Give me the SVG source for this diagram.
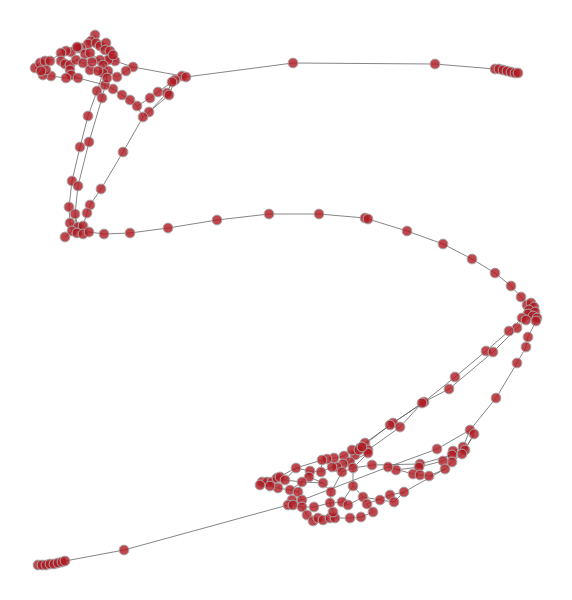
<svg xmlns="http://www.w3.org/2000/svg" width="572" height="600" viewBox="0 0 572 600">
<style>
.edges path{fill:none;stroke:#555;stroke-width:0.8;stroke-opacity:0.9}
.nodes circle{fill:#b01820;fill-opacity:0.8;stroke:#a8a8a8;stroke-width:1;r:4.9px}
</style>
<rect width="572" height="600" fill="#fff"/>
<g id="connectors" class="edges">
<path d="M186,77 L293,63 L435,64 L495,69 L499,69 L503,70 L507,71 L511,72 L515,73 L518,73"/>
<path d="M133,67 L182,76 M126,71 L133,67 M117,77 L126,71 M108,71 L117,77 M115,61 L133,67 M76,60 L108,60 M66,78 L78,78 L105,85"/>
<path d="M103,73 L97,91 L88,116 L80,147 L72,181 L69,207 L70,223"/>
<path d="M107,78 L102,98 L89,142 L78,186 L75,214 L77,233"/>
<path d="M182,76 L172,82 L167,93 L149,112 M186,77 L175,80 L169,95 L149,112 M172,82 L158,92 L150,98 L137,106"/>
<path d="M105,85 L113,89 L122,95 L130,100 L137,106 L143,117 M149,112 L143,117 L123,152 L101,189 L90,205 L87,213 L83,226"/>
<path d="M70,223 L78,227 L83,226 M72,231 L77,233 L83,234 L89,232 M65,237 L72,231 M70,223 L72,231 M83,226 L89,232 M75,214 L78,227"/>
<path d="M89,232 L104,234 L130,233 L168,228 L217,220 L269,214 L319,214 L365,218 L368,219 L407,231 L443,244 L472,259 L495,273 L511,286 L521,297 L527,305"/>
<path d="M527,305 L531,303 L534,307 L535,312 L537,318 L536,321 M527,305 L529,310 L528,314 L522,318 M529,310 L534,307 M528,314 L533,316 L537,318 M526,320 L522,318 M533,316 L526,320"/>
<path d="M522,318 L509,331 L486,351 L455,377 L424,402 L393,423 L365,443 M526,320 L517,328 L493,352 L449,389 L422,403 L400,427 L368,450 M536,321 L528,337 L526,347 L517,363 L496,398 L470,430 M424,402 L390,425 L360,448"/>
<path d="M470,430 L437,449 L388,467 M470,430 L463,447 L453,451 L443,461 L419,467 L396,470 M474,434 L465,450 L452,455 L420,464 L372,465 M474,434 L462,454 L452,462 L445,469 L429,476 L420,475 L413,474 L388,467 M445,469 L404,492 L394,502 L380,500 L363,497 M404,492 L390,495 L367,504 M420,464 L419,467 M372,465 L353,468 M124,550 L288,505 M302,500 L388,467"/>
<path d="M363,497 L348,505 L342,502 L330,503 L314,507 L302,507 M367,504 L373,512 L361,517 L350,518 L335,518 L330,518 L323,520 L318,518 L313,521 L307,515 L302,507 M333,512 L330,503 M333,512 L335,518 M302,507 L293,505 L288,505 L292,500 L302,500 L298,492 L290,490 M331,492 L330,503 M331,492 L323,483 L309,477 M353,486 L342,502 M353,486 L363,497 M353,468 L353,486 M353,468 L342,472 L331,492"/>
<path d="M365,443 L362,447 L359,450 L352,450 L344,456 L334,458 L327,459 L322,460 L296,468 L285,480 M360,448 L355,455 L350,462 L343,464 L337,467 L332,467 L321,472 L310,471 L302,482 L290,490 M368,450 L368,453 L353,468 M368,453 L350,462 M322,460 L321,472 M342,472 L337,467 M309,477 L310,471 M302,482 L298,492 M262,482 L267,482 L272,482 L277,478 L280,477 L285,480 L278,488 L270,486 L260,485 L262,482 M296,468 L277,478 M285,480 L302,482 M278,488 L290,490 M296,468 L310,471 M323,483 L302,482"/>
<path d="M124,550 L65,561 L62,562 L58,563 L54,564 L50,564 L46,565 L42,565 L38,565"/>
<path d="M95,35 L91,41 L88,44 L81,48 L78,48 L71,52 L66,51 L61,53 L50,61 L45,61 L40,63 L35,68 L41,71 L43,75 L51,76 L66,78 M95,35 L96,43 L100,46 L106,43 M100,46 L105,50 L110,51 L113,55 L111,58 L115,61 L108,60 L103,65 L108,71 L103,73 M90,53 L85,54 L81,48 M90,53 L100,60 L92,62 L83,63 L76,60 L70,65 L65,64 L61,61 L61,53 M70,65 L70,70 L71,75 L78,78 M83,63 L90,70 L98,71 L103,73 M46,70 L41,71 M46,70 L50,61 M77,47 L78,48 M105,50 L108,60 M100,60 L103,65 M107,78 L108,71 M103,73 L107,78"/>
</g>
<g id="nodes" class="nodes">
<g id="n1"><circle cx="293" cy="63" r="4.9"/></g>
<g id="n2"><circle cx="435" cy="64" r="4.9"/></g>
<g id="n3"><circle cx="495" cy="69" r="4.9"/></g>
<g id="n4"><circle cx="499" cy="69" r="4.9"/></g>
<g id="n5"><circle cx="503" cy="70" r="4.9"/></g>
<g id="n6"><circle cx="507" cy="71" r="4.9"/></g>
<g id="n7"><circle cx="511" cy="72" r="4.9"/></g>
<g id="n8"><circle cx="515" cy="73" r="4.9"/></g>
<g id="n9"><circle cx="518" cy="73" r="4.9"/></g>
<g id="n10"><circle cx="182" cy="76" r="4.9"/></g>
<g id="n11"><circle cx="186" cy="77" r="4.9"/></g>
<g id="n12"><circle cx="175" cy="80" r="4.9"/></g>
<g id="n13"><circle cx="172" cy="82" r="4.9"/></g>
<g id="n14"><circle cx="158" cy="92" r="4.9"/></g>
<g id="n15"><circle cx="167" cy="93" r="4.9"/></g>
<g id="n16"><circle cx="169" cy="95" r="4.9"/></g>
<g id="n17"><circle cx="150" cy="98" r="4.9"/></g>
<g id="n18"><circle cx="149" cy="112" r="4.9"/></g>
<g id="n19"><circle cx="143" cy="117" r="4.9"/></g>
<g id="n20"><circle cx="137" cy="106" r="4.9"/></g>
<g id="n21"><circle cx="130" cy="100" r="4.9"/></g>
<g id="n22"><circle cx="122" cy="95" r="4.9"/></g>
<g id="n23"><circle cx="113" cy="89" r="4.9"/></g>
<g id="n24"><circle cx="105" cy="85" r="4.9"/></g>
<g id="n25"><circle cx="133" cy="67" r="4.9"/></g>
<g id="n26"><circle cx="126" cy="71" r="4.9"/></g>
<g id="n27"><circle cx="117" cy="77" r="4.9"/></g>
<g id="n28"><circle cx="95" cy="35" r="4.9"/></g>
<g id="n29"><circle cx="91" cy="41" r="4.9"/></g>
<g id="n30"><circle cx="88" cy="44" r="4.9"/></g>
<g id="n31"><circle cx="96" cy="43" r="4.9"/></g>
<g id="n32"><circle cx="100" cy="46" r="4.9"/></g>
<g id="n33"><circle cx="106" cy="43" r="4.9"/></g>
<g id="n34"><circle cx="105" cy="50" r="4.9"/></g>
<g id="n35"><circle cx="110" cy="51" r="4.9"/></g>
<g id="n36"><circle cx="111" cy="58" r="4.9"/></g>
<g id="n37"><circle cx="115" cy="61" r="4.9"/></g>
<g id="n38"><circle cx="108" cy="60" r="4.9"/></g>
<g id="n39"><circle cx="100" cy="60" r="4.9"/></g>
<g id="n40"><circle cx="103" cy="65" r="4.9"/></g>
<g id="n41"><circle cx="108" cy="71" r="4.9"/></g>
<g id="n42"><circle cx="103" cy="73" r="4.9"/></g>
<g id="n43"><circle cx="107" cy="78" r="4.9"/></g>
<g id="n44"><circle cx="81" cy="48" r="4.9"/></g>
<g id="n45"><circle cx="78" cy="48" r="4.9"/></g>
<g id="n46"><circle cx="85" cy="54" r="4.9"/></g>
<g id="n47"><circle cx="90" cy="53" r="4.9"/></g>
<g id="n48"><circle cx="71" cy="52" r="4.9"/></g>
<g id="n49"><circle cx="66" cy="51" r="4.9"/></g>
<g id="n50"><circle cx="61" cy="53" r="4.9"/></g>
<g id="n51"><circle cx="61" cy="61" r="4.9"/></g>
<g id="n52"><circle cx="65" cy="64" r="4.9"/></g>
<g id="n53"><circle cx="70" cy="65" r="4.9"/></g>
<g id="n54"><circle cx="76" cy="60" r="4.9"/></g>
<g id="n55"><circle cx="83" cy="63" r="4.9"/></g>
<g id="n56"><circle cx="70" cy="70" r="4.9"/></g>
<g id="n57"><circle cx="71" cy="75" r="4.9"/></g>
<g id="n58"><circle cx="78" cy="78" r="4.9"/></g>
<g id="n59"><circle cx="66" cy="78" r="4.9"/></g>
<g id="n60"><circle cx="51" cy="76" r="4.9"/></g>
<g id="n61"><circle cx="43" cy="75" r="4.9"/></g>
<g id="n62"><circle cx="35" cy="68" r="4.9"/></g>
<g id="n63"><circle cx="40" cy="63" r="4.9"/></g>
<g id="n64"><circle cx="45" cy="61" r="4.9"/></g>
<g id="n65"><circle cx="50" cy="61" r="4.9"/></g>
<g id="n66"><circle cx="46" cy="70" r="4.9"/></g>
<g id="n67"><circle cx="41" cy="71" r="4.9"/></g>
<g id="n68"><circle cx="90" cy="70" r="4.9"/></g>
<g id="n69"><circle cx="98" cy="71" r="4.9"/></g>
<g id="n70"><circle cx="113" cy="55" r="4.9"/></g>
<g id="n71"><circle cx="92" cy="62" r="4.9"/></g>
<g id="n72"><circle cx="77" cy="47" r="4.9"/></g>
<g id="n73"><circle cx="97" cy="91" r="4.9"/></g>
<g id="n74"><circle cx="102" cy="98" r="4.9"/></g>
<g id="n75"><circle cx="88" cy="116" r="4.9"/></g>
<g id="n76"><circle cx="80" cy="147" r="4.9"/></g>
<g id="n77"><circle cx="89" cy="142" r="4.9"/></g>
<g id="n78"><circle cx="72" cy="181" r="4.9"/></g>
<g id="n79"><circle cx="78" cy="186" r="4.9"/></g>
<g id="n80"><circle cx="123" cy="152" r="4.9"/></g>
<g id="n81"><circle cx="101" cy="189" r="4.9"/></g>
<g id="n82"><circle cx="90" cy="205" r="4.9"/></g>
<g id="n83"><circle cx="69" cy="207" r="4.9"/></g>
<g id="n84"><circle cx="87" cy="213" r="4.9"/></g>
<g id="n85"><circle cx="75" cy="214" r="4.9"/></g>
<g id="n86"><circle cx="70" cy="223" r="4.9"/></g>
<g id="n87"><circle cx="78" cy="227" r="4.9"/></g>
<g id="n88"><circle cx="83" cy="226" r="4.9"/></g>
<g id="n89"><circle cx="72" cy="231" r="4.9"/></g>
<g id="n90"><circle cx="77" cy="233" r="4.9"/></g>
<g id="n91"><circle cx="83" cy="234" r="4.9"/></g>
<g id="n92"><circle cx="89" cy="232" r="4.9"/></g>
<g id="n93"><circle cx="65" cy="237" r="4.9"/></g>
<g id="n94"><circle cx="104" cy="234" r="4.9"/></g>
<g id="n95"><circle cx="130" cy="233" r="4.9"/></g>
<g id="n96"><circle cx="168" cy="228" r="4.9"/></g>
<g id="n97"><circle cx="217" cy="220" r="4.9"/></g>
<g id="n98"><circle cx="269" cy="214" r="4.9"/></g>
<g id="n99"><circle cx="319" cy="214" r="4.9"/></g>
<g id="n100"><circle cx="365" cy="218" r="4.9"/></g>
<g id="n101"><circle cx="368" cy="219" r="4.9"/></g>
<g id="n102"><circle cx="407" cy="231" r="4.9"/></g>
<g id="n103"><circle cx="443" cy="244" r="4.9"/></g>
<g id="n104"><circle cx="472" cy="259" r="4.9"/></g>
<g id="n105"><circle cx="495" cy="273" r="4.9"/></g>
<g id="n106"><circle cx="511" cy="286" r="4.9"/></g>
<g id="n107"><circle cx="521" cy="297" r="4.9"/></g>
<g id="n108"><circle cx="527" cy="305" r="4.9"/></g>
<g id="n109"><circle cx="531" cy="303" r="4.9"/></g>
<g id="n110"><circle cx="534" cy="307" r="4.9"/></g>
<g id="n111"><circle cx="529" cy="310" r="4.9"/></g>
<g id="n112"><circle cx="535" cy="312" r="4.9"/></g>
<g id="n113"><circle cx="528" cy="314" r="4.9"/></g>
<g id="n114"><circle cx="533" cy="316" r="4.9"/></g>
<g id="n115"><circle cx="537" cy="318" r="4.9"/></g>
<g id="n116"><circle cx="522" cy="318" r="4.9"/></g>
<g id="n117"><circle cx="526" cy="320" r="4.9"/></g>
<g id="n118"><circle cx="536" cy="321" r="4.9"/></g>
<g id="n119"><circle cx="517" cy="328" r="4.9"/></g>
<g id="n120"><circle cx="509" cy="331" r="4.9"/></g>
<g id="n121"><circle cx="528" cy="337" r="4.9"/></g>
<g id="n122"><circle cx="526" cy="347" r="4.9"/></g>
<g id="n123"><circle cx="517" cy="363" r="4.9"/></g>
<g id="n124"><circle cx="496" cy="398" r="4.9"/></g>
<g id="n125"><circle cx="486" cy="351" r="4.9"/></g>
<g id="n126"><circle cx="493" cy="352" r="4.9"/></g>
<g id="n127"><circle cx="455" cy="377" r="4.9"/></g>
<g id="n128"><circle cx="449" cy="389" r="4.9"/></g>
<g id="n129"><circle cx="424" cy="402" r="4.9"/></g>
<g id="n130"><circle cx="422" cy="403" r="4.9"/></g>
<g id="n131"><circle cx="393" cy="423" r="4.9"/></g>
<g id="n132"><circle cx="390" cy="425" r="4.9"/></g>
<g id="n133"><circle cx="400" cy="427" r="4.9"/></g>
<g id="n134"><circle cx="470" cy="430" r="4.9"/></g>
<g id="n135"><circle cx="474" cy="434" r="4.9"/></g>
<g id="n136"><circle cx="437" cy="449" r="4.9"/></g>
<g id="n137"><circle cx="463" cy="447" r="4.9"/></g>
<g id="n138"><circle cx="465" cy="450" r="4.9"/></g>
<g id="n139"><circle cx="462" cy="454" r="4.9"/></g>
<g id="n140"><circle cx="453" cy="451" r="4.9"/></g>
<g id="n141"><circle cx="452" cy="455" r="4.9"/></g>
<g id="n142"><circle cx="452" cy="462" r="4.9"/></g>
<g id="n143"><circle cx="443" cy="461" r="4.9"/></g>
<g id="n144"><circle cx="445" cy="469" r="4.9"/></g>
<g id="n145"><circle cx="420" cy="464" r="4.9"/></g>
<g id="n146"><circle cx="419" cy="467" r="4.9"/></g>
<g id="n147"><circle cx="413" cy="474" r="4.9"/></g>
<g id="n148"><circle cx="420" cy="475" r="4.9"/></g>
<g id="n149"><circle cx="429" cy="476" r="4.9"/></g>
<g id="n150"><circle cx="396" cy="470" r="4.9"/></g>
<g id="n151"><circle cx="388" cy="467" r="4.9"/></g>
<g id="n152"><circle cx="372" cy="465" r="4.9"/></g>
<g id="n153"><circle cx="365" cy="443" r="4.9"/></g>
<g id="n154"><circle cx="360" cy="448" r="4.9"/></g>
<g id="n155"><circle cx="368" cy="450" r="4.9"/></g>
<g id="n156"><circle cx="368" cy="453" r="4.9"/></g>
<g id="n157"><circle cx="404" cy="492" r="4.9"/></g>
<g id="n158"><circle cx="390" cy="495" r="4.9"/></g>
<g id="n159"><circle cx="394" cy="502" r="4.9"/></g>
<g id="n160"><circle cx="380" cy="500" r="4.9"/></g>
<g id="n161"><circle cx="363" cy="497" r="4.9"/></g>
<g id="n162"><circle cx="367" cy="504" r="4.9"/></g>
<g id="n163"><circle cx="373" cy="512" r="4.9"/></g>
<g id="n164"><circle cx="361" cy="517" r="4.9"/></g>
<g id="n165"><circle cx="350" cy="518" r="4.9"/></g>
<g id="n166"><circle cx="355" cy="455" r="4.9"/></g>
<g id="n167"><circle cx="352" cy="450" r="4.9"/></g>
<g id="n168"><circle cx="359" cy="450" r="4.9"/></g>
<g id="n169"><circle cx="362" cy="447" r="4.9"/></g>
<g id="n170"><circle cx="344" cy="456" r="4.9"/></g>
<g id="n171"><circle cx="350" cy="462" r="4.9"/></g>
<g id="n172"><circle cx="343" cy="464" r="4.9"/></g>
<g id="n173"><circle cx="337" cy="467" r="4.9"/></g>
<g id="n174"><circle cx="332" cy="467" r="4.9"/></g>
<g id="n175"><circle cx="334" cy="458" r="4.9"/></g>
<g id="n176"><circle cx="327" cy="459" r="4.9"/></g>
<g id="n177"><circle cx="322" cy="460" r="4.9"/></g>
<g id="n178"><circle cx="296" cy="468" r="4.9"/></g>
<g id="n179"><circle cx="353" cy="468" r="4.9"/></g>
<g id="n180"><circle cx="342" cy="472" r="4.9"/></g>
<g id="n181"><circle cx="321" cy="472" r="4.9"/></g>
<g id="n182"><circle cx="310" cy="471" r="4.9"/></g>
<g id="n183"><circle cx="309" cy="477" r="4.9"/></g>
<g id="n184"><circle cx="302" cy="482" r="4.9"/></g>
<g id="n185"><circle cx="323" cy="483" r="4.9"/></g>
<g id="n186"><circle cx="331" cy="492" r="4.9"/></g>
<g id="n187"><circle cx="353" cy="486" r="4.9"/></g>
<g id="n188"><circle cx="290" cy="490" r="4.9"/></g>
<g id="n189"><circle cx="298" cy="492" r="4.9"/></g>
<g id="n190"><circle cx="262" cy="482" r="4.9"/></g>
<g id="n191"><circle cx="267" cy="482" r="4.9"/></g>
<g id="n192"><circle cx="272" cy="482" r="4.9"/></g>
<g id="n193"><circle cx="277" cy="478" r="4.9"/></g>
<g id="n194"><circle cx="280" cy="477" r="4.9"/></g>
<g id="n195"><circle cx="285" cy="480" r="4.9"/></g>
<g id="n196"><circle cx="278" cy="488" r="4.9"/></g>
<g id="n197"><circle cx="292" cy="500" r="4.9"/></g>
<g id="n198"><circle cx="302" cy="500" r="4.9"/></g>
<g id="n199"><circle cx="288" cy="505" r="4.9"/></g>
<g id="n200"><circle cx="293" cy="505" r="4.9"/></g>
<g id="n201"><circle cx="302" cy="507" r="4.9"/></g>
<g id="n202"><circle cx="314" cy="507" r="4.9"/></g>
<g id="n203"><circle cx="330" cy="503" r="4.9"/></g>
<g id="n204"><circle cx="342" cy="502" r="4.9"/></g>
<g id="n205"><circle cx="348" cy="505" r="4.9"/></g>
<g id="n206"><circle cx="307" cy="515" r="4.9"/></g>
<g id="n207"><circle cx="313" cy="521" r="4.9"/></g>
<g id="n208"><circle cx="318" cy="518" r="4.9"/></g>
<g id="n209"><circle cx="323" cy="520" r="4.9"/></g>
<g id="n210"><circle cx="330" cy="518" r="4.9"/></g>
<g id="n211"><circle cx="335" cy="518" r="4.9"/></g>
<g id="n212"><circle cx="333" cy="512" r="4.9"/></g>
<g id="n213"><circle cx="270" cy="486" r="4.9"/></g>
<g id="n214"><circle cx="260" cy="485" r="4.9"/></g>
<g id="n215"><circle cx="124" cy="550" r="4.9"/></g>
<g id="n216"><circle cx="38" cy="565" r="4.9"/></g>
<g id="n217"><circle cx="42" cy="565" r="4.9"/></g>
<g id="n218"><circle cx="46" cy="565" r="4.9"/></g>
<g id="n219"><circle cx="50" cy="564" r="4.9"/></g>
<g id="n220"><circle cx="54" cy="564" r="4.9"/></g>
<g id="n221"><circle cx="58" cy="563" r="4.9"/></g>
<g id="n222"><circle cx="62" cy="562" r="4.9"/></g>
<g id="n223"><circle cx="65" cy="561" r="4.9"/></g>
</g>
</svg>
